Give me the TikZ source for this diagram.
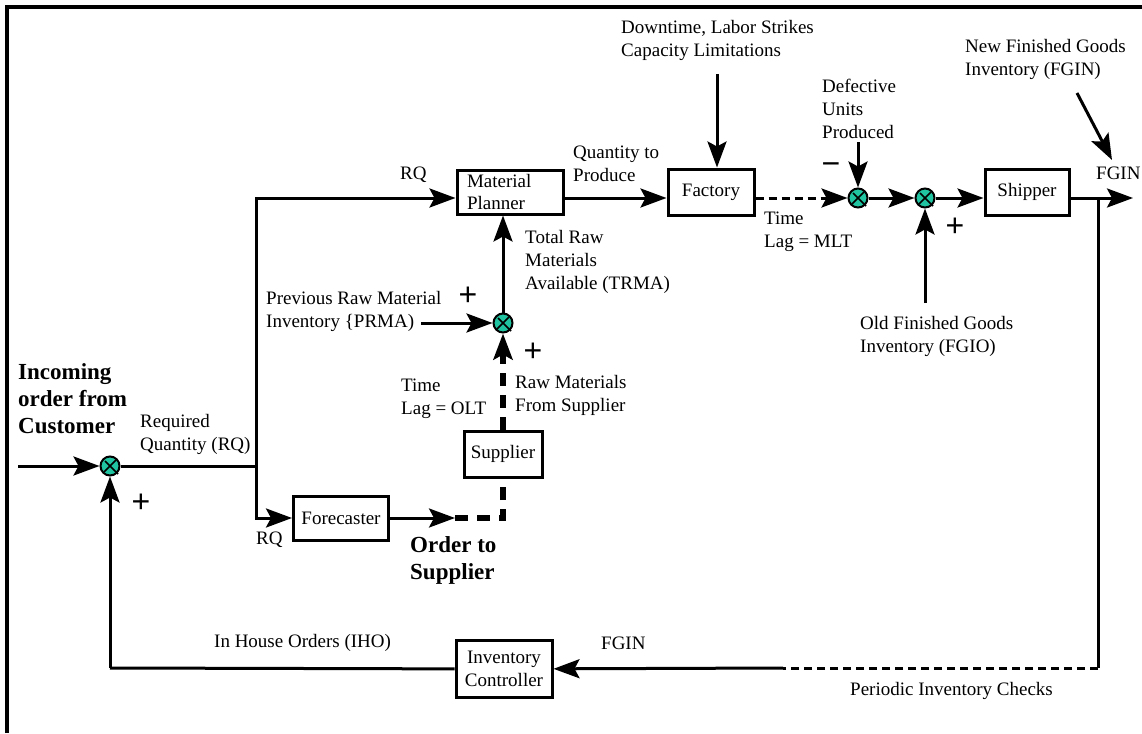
\documentclass[tikz,border=0pt]{standalone}
\usepackage{fontspec}
\setmainfont{Liberation Serif}
\newfontfamily\signfont{Liberation Sans}
\usetikzlibrary{arrows.meta}
\definecolor{junc}{RGB}{32,196,160}
\begin{document}
\begin{tikzpicture}[x=1pt,y=-1pt,
 every node/.style={font=\fontsize{19}{23}\selectfont},
 box/.style={draw,line width=3pt,inner sep=0pt},
 lbl/.style={inner sep=0pt,anchor=west,align=left},
 blbl/.style={lbl,font=\fontsize{23}{27}\selectfont\bfseries},
 sign/.style={inner sep=0pt,font=\fontsize{32}{32}\selectfont\signfont},
 junction/.style={circle,draw,fill=junc,line width=2pt,minimum size=19pt,inner sep=0pt},
 flow/.style={line width=3pt},
 arr/.style={flow,-{Stealth[length=26pt,width=19pt,inset=5pt]}},
 tdash/.style={dash pattern=on 8pt off 5pt},
 Tdash/.style={line width=6pt,dash pattern=on 13pt off 9pt},
 xmark/.style={line width=1.5pt}
]
\useasboundingbox (0,0) rectangle (1142,733);
% frame
\draw[line width=3.5pt] (7,733) -- (7,7) -- (1142,7);

% boxes
\node[box,minimum width=106pt,minimum height=44pt,text width=86pt,align=left,font=\fontsize{19}{21}\selectfont] (planner) at (510,192) {Material\\Planner};
\node[box,minimum width=86pt,minimum height=46pt] (factory) at (711,192) {Factory};
\node[box,minimum width=84pt,minimum height=46pt] (shipper) at (1027,192) {Shipper};
\node[box,minimum width=78pt,minimum height=46pt] (supplier) at (503,454) {Supplier};
\node[box,minimum width=95pt,minimum height=44pt] (fc) at (341,518) {Forecaster};
\node[box,minimum width=96pt,minimum height=57pt,align=center,font=\fontsize{19}{23}\selectfont] (ic) at (504,669) {Inventory\\Controller};

% junctions
\node[junction] (S0) at (110,466) {};
\node[junction] (S1) at (503,323) {};
\node[junction] (S2) at (858,198) {};
\node[junction] (S3) at (925,198) {};
\foreach \j in {S0,S1,S2,S3}{
  \draw[xmark] ([shift={(-5,-5)}]\j.center) -- ([shift={(8,8)}]\j.center)
               ([shift={(6,-6)}]\j.center) -- ([shift={(-6,6)}]\j.center);
}

% coordinates
\coordinate (in) at (18,466);
\coordinate (split) at (256,466);
\coordinate (ordertip) at (455,518);
\coordinate (ordercorner) at (503,518);
\coordinate (prmaend) at (421,323);
\coordinate (dtop) at (717,74);
\coordinate (deftop) at (858,142);
\coordinate (oldbot) at (925,303);
\coordinate (out) at (1133,198);
\coordinate (tap) at (1098,198);
\coordinate (fbcorner) at (1098,668);
\coordinate (fbmid) at (783,668);
\coordinate (ihocorner) at (110,668);
\coordinate (fginstart) at (1077,93);
\coordinate (fginend) at (1112,160);

% connectors
\draw[arr] (in) -- (S0);
\draw[flow] (S0) -- (split);
\draw[arr] (split) |- ([yshift=-6pt]planner.west);
\draw[arr] (split) |- (fc.west);
\draw[arr] (fc) -- (ordertip);
\draw[Tdash] (ordertip) -- (ordercorner) -- (supplier);
\draw[arr,Tdash] (supplier) -- (S1);
\draw[arr] (S1) -- (S1 |- planner.south);
\draw[arr] (prmaend) -- (S1);
\draw[arr] ([yshift=-6pt]planner.east) -- ([yshift=-6pt]factory.west);
\draw[arr] (dtop) -- (dtop |- factory.north);
\draw[arr,tdash] ([yshift=-6pt]factory.east) -- (S2);
\draw[arr] (deftop) -- (S2);
\draw[arr] (S2) -- (S3);
\draw[arr] (oldbot) -- (S3);
\draw[arr] (S3) -- ([yshift=-6pt]shipper.west);
\draw[arr] ([yshift=-6pt]shipper.east) -- (out);
\draw[arr] (fginstart) -- (fginend);
\draw[flow] (tap) -- (fbcorner);
\draw[flow,tdash] (fbcorner) -- (fbmid);
\draw[arr] (fbmid) -- (ic);
\draw[flow] (ic) -- (ihocorner);
\draw[arr] (ihocorner) -- (S0);

% labels
\node[blbl] (lincoming) at (18,399) {Incoming\\order from\\Customer};
\node[lbl] (lreq) at (140,434) {Required\\Quantity (RQ)};
\node[lbl] (lrqtop) at (400,175) {RQ};
\node[lbl] (lrqbot) at (256,540) {RQ};
\node[lbl] (lqty) at (573,164) {Quantity to\\Produce};
\node[lbl] (ldown) at (621,40) {Downtime, Labor Strikes\\Capacity Limitations};
\node[lbl] (lnew) at (965,59) {New Finished Goods\\Inventory (FGIN)};
\node[lbl] (ldef) at (822,109) {Defective\\Units\\Produced};
\node[lbl] (lfgin) at (1096,173) {FGIN};
\node[lbl] (lmlt) at (764,232) {Time\\Lag = MLT};
\node[lbl] (ltrma) at (525,262) {Total Raw\\Materials\\Available (TRMA)};
\node[lbl] (lprma) at (266,311) {Previous Raw Material\\Inventory \{PRMA)};
\node[lbl] (lolt) at (401,399) {Time\\Lag = OLT};
\node[lbl] (lraw) at (515,395) {Raw Materials\\From Supplier};
\node[blbl] (lorder) at (410,560) {Order to\\Supplier};
\node[lbl] (liho) at (214,643) {In House Orders (IHO)};
\node[lbl] (lfginb) at (601,643) {FGIN};
\node[lbl] (lperiodic) at (850,691) {Periodic Inventory Checks};
\node[lbl] (lold) at (860,336) {Old Finished Goods\\Inventory (FGIO)};

% signs
\node[sign] at (468,296) {+};
\node[sign] at (533,352) {+};
\node[sign] at (141,503) {+};
\node[sign] at (955,227) {+};
\node[sign] at (831,169) {−};
\end{tikzpicture}
\end{document}
